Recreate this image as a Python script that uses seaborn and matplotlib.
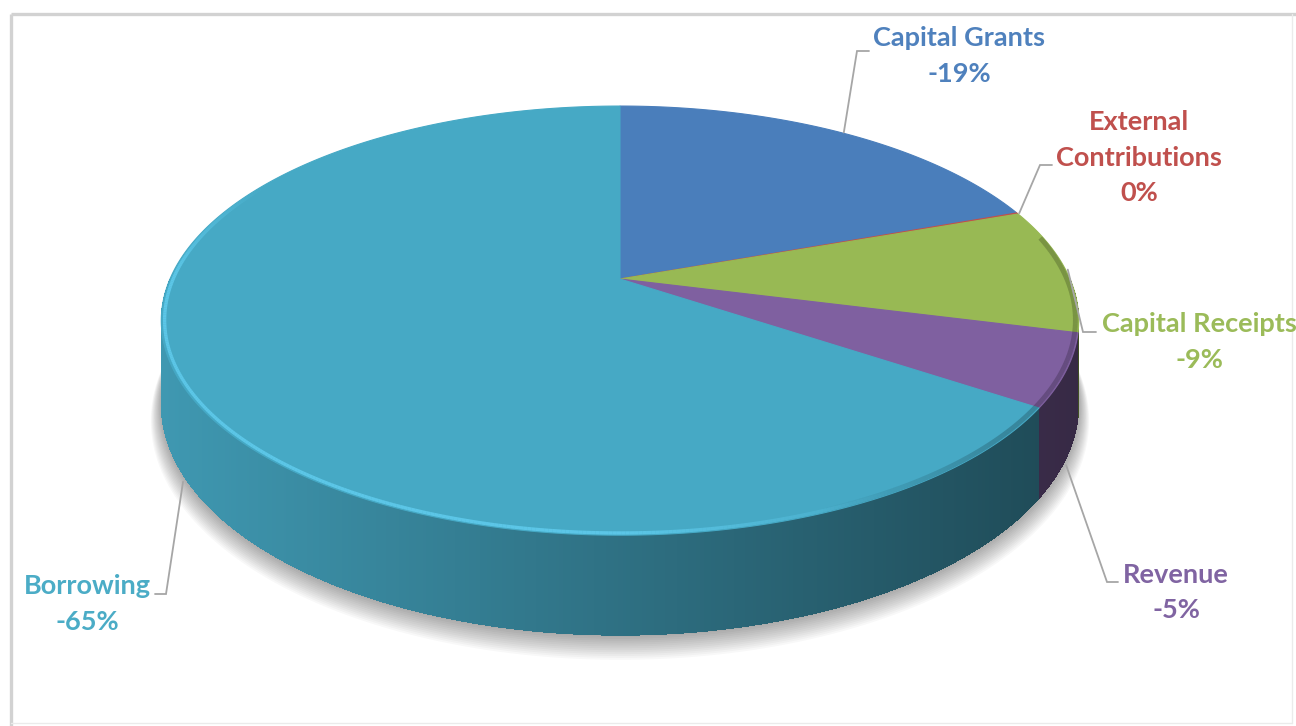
import numpy as np
import matplotlib
matplotlib.use("Agg")
import matplotlib.pyplot as plt
import seaborn as sns
from matplotlib.collections import PolyCollection, LineCollection

# ---------------- data ----------------
categories = ["Capital Grants", "External\nContributions", "Capital Receipts", "Revenue", "Borrowing"]
values = [-19.4, -0.1, -9.4, -5.4, -65.4]          # percent of total
top_colors = ["#4A7EBB", "#C0504D", "#98B954", "#7F60A0", "#46A9C5"]
label_colors = ["#4F81BD", "#C0504D", "#9BBB59", "#8064A2", "#4BACC6"]

# label layout (pixel space): centre x, baseline of first line, leader elbow, leader end
label_pos = [(959, 46), (1139, 130), (1199, 332), (1176, 583), (87, 594)]
leader_elbow = [(857, 51), (1040, 165), (1083, 332), (1107, 582), (166, 594)]
leader_end = [(869, 51), (1052, 165), (1096, 332), (1118, 582), (155, 594)]
leader_on_wall = [False, False, False, True, True]

# ---------------- style ----------------
sns.set_theme(style="white")
plt.rcParams["font.family"] = ["Lato", "DejaVu Sans"]

W, H = 1296, 726
fig = plt.figure(figsize=(W / 100, H / 100), dpi=100)
ax = fig.add_axes([0, 0, 1, 1])
ax.set_xlim(0, W)
ax.set_ylim(H, 0)
ax.axis("off")

# perspective projection of the tilted disc
CX, CY = 620.0, 279.0
A, B, K, D = 450.0, 206.5, 0.194, 80.6


def project(theta_deg, r=1.0, z=0.0):
    th = np.radians(theta_deg)
    u = r * np.cos(th)
    v = r * np.sin(th)
    w = 1 + K * v
    return CX + A * u / w, CY - B * v / w + D * z / w


vals = np.abs(np.array(values, dtype=float))
fr = vals / vals.sum()
cum = np.concatenate([[0], np.cumsum(fr)])
th_start = 90 - 360 * cum[:-1]
th_end = 90 - 360 * cum[1:]


def shade(hexcol, f):
    c = np.array(matplotlib.colors.to_rgb(hexcol))
    return tuple(np.clip(c * f, 0, 1))


# ---------------- soft shadow ----------------
full = np.linspace(0, 360, 361)
for s in np.linspace(0, 1, 14):
    xs, ys = project(full, r=1 + 0.022 * s, z=1 + 0.17 * s)
    ax.fill(xs, ys, color="black", alpha=0.026, lw=0, zorder=1)

# ---------------- side walls ----------------
xmin, xmax = CX - 459, CX + 459
# underlay of the whole front wall to hide seams between strips
fa = np.linspace(180, 360, 400)
tx, ty = project(fa)
bx, by = project(fa[::-1], z=1)
ax.fill(np.concatenate([tx, bx]), np.concatenate([ty, by]),
        color=shade(top_colors[-1], 0.62), lw=0, zorder=1.5)

quads, qcols, qv = [], [], []
for i in range(len(values)):
    a0, a1 = th_end[i], th_start[i]
    n = max(2, int(np.ceil((a1 - a0) / 0.4)) + 1)
    ang = np.linspace(a0, a1, n)
    for ta, tb in zip(ang[:-1], ang[1:]):
        tm = 0.5 * (ta + tb)
        if np.sin(np.radians(tm)) >= 0:
            continue
        x1, y1 = project(ta)
        x2, y2 = project(tb)
        x3, y3 = project(tb, z=1)
        x4, y4 = project(ta, z=1)
        quads.append([(x1, y1), (x2, y2), (x3, y3), (x4, y4)])
        xm = 0.5 * (x1 + x2)
        t = np.clip((xm - xmin) / (xmax - xmin), 0, 1)
        qcols.append(shade(top_colors[i], 0.90 - 0.47 * t))
        qv.append(np.sin(np.radians(tm)))
order = np.argsort(-np.array(qv))
quads = [quads[j] for j in order]
qcols = [qcols[j] for j in order]
ax.add_collection(PolyCollection(quads, facecolors=qcols, edgecolors="none", linewidths=0,
                                 antialiased=False, zorder=2))

# ---------------- top faces ----------------
for i in range(len(values)):
    ang = np.linspace(th_start[i], th_end[i], max(3, int(abs(th_start[i] - th_end[i]) * 2) + 2))
    px, py = project(ang)
    xs = np.concatenate([[CX], px])
    ys = np.concatenate([[CY], py])
    ax.fill(xs, ys, facecolor=top_colors[i], edgecolor=top_colors[i], lw=0.8, zorder=3)

# ---------------- rim highlight / bevel ----------------
ang = np.linspace(150, 372, 500)
hx, hy = project(ang, r=0.993)
pts = np.column_stack([hx, hy])
segs = np.stack([pts[:-1], pts[1:]], axis=1)
tm = np.clip((0.5 * (hx[:-1] + hx[1:]) - xmin) / (xmax - xmin), 0, 1)
light_a = 0.6 * np.clip((0.80 - tm) / 0.3, 0, 1) * np.clip((np.radians(ang[:-1]) - np.radians(150)) / 0.5, 0, 1)
light_cols = [(0.42, 0.86, 1.0, a) for a in light_a]
ax.add_collection(LineCollection(segs, colors=light_cols, linewidths=2.4, zorder=4, capstyle="butt"))
dark_a = 0.2 * np.clip((tm - 0.72) / 0.2, 0, 1)
dark_cols = [(0, 0, 0, a) for a in dark_a]
ax.add_collection(LineCollection(segs, colors=dark_cols, linewidths=3.5, zorder=4, capstyle="butt"))

# ---------------- labels with leader lines ----------------
FS = 19.5
GAP = 35.5
for i, cat in enumerate(categories):
    mid = 0.5 * (th_start[i] + th_end[i])
    if leader_on_wall[i]:
        axp, ayp = project(mid, r=1.0, z=1.08)
    else:
        axp, ayp = project(mid, r=1.005)
    ex, ey = leader_elbow[i]
    fx, fy = leader_end[i]
    ax.plot([axp, ex, fx], [ayp, ey, fy], color="#A6A6A6", lw=1.3, zorder=5, solid_joinstyle="miter")
    lines = cat.split("\n") + [f"{int(round(values[i]))}%"]
    x0, y0 = label_pos[i]
    for k, ln in enumerate(lines):
        ax.text(x0, y0 + k * GAP, ln, ha="center", va="baseline", fontsize=FS,
                fontweight="bold", color=label_colors[i], zorder=6)

# ---------------- chart frame ----------------
ax.plot([11, W], [14, 14], color="#D2D2D2", lw=2.4, zorder=0, solid_capstyle="butt")
ax.plot([11, 11], [14, H], color="#D2D2D2", lw=2.4, zorder=0, solid_capstyle="butt")
ax.plot([1292, 1292], [14, 723], color="#EBEBEB", lw=1.0, zorder=0)
ax.plot([11, 1292], [723, 723], color="#EBEBEB", lw=1.0, zorder=0)

fig.savefig("out.png", dpi=100, facecolor="white")
